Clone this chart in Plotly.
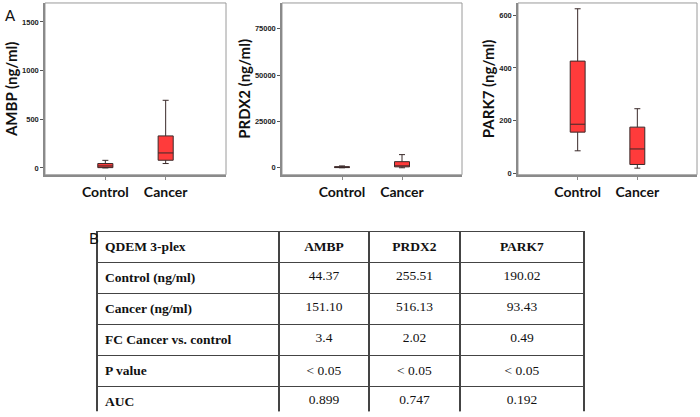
import plotly.graph_objects as go

categories = ["Control", "Cancer"]

# Box statistics: [Control, Cancer]
ambp_low = [0, 45]
ambp_q1 = [3, 79]
ambp_med = [20, 154]
ambp_q3 = [45, 329]
ambp_up = [78, 695]

prdx2_low = [0, 0]
prdx2_q1 = [100, 500]
prdx2_med = [300, 900]
prdx2_q3 = [600, 3300]
prdx2_up = [1000, 7100]

park7_low = [85, 19]
park7_q1 = [156, 33]
park7_med = [186, 92]
park7_q3 = [426, 175]
park7_up = [625, 245]

panel_titles = ["AMBP (ng/ml)", "PRDX2 (ng/ml)", "PARK7 (ng/ml)"]
y_ranges = [[-70, 1695], [-3750, 88900], [-6, 647]]
y_ticks = [[0, 500, 1000, 1500], [0, 25000, 50000, 75000], [0, 200, 400, 600]]

table_header = ["QDEM 3-plex", "AMBP", "PRDX2", "PARK7"]
row_labels = ["Control (ng/ml)", "Cancer (ng/ml)", "FC Cancer vs. control", "P value", "AUC"]
col_ambp = ["44.37", "151.10", "3.4", "< 0.05", "0.899"]
col_prdx2 = ["255.51", "516.13", "2.02", "< 0.05", "0.747"]
col_park7 = ["190.02", "93.43", "0.49", "< 0.05", "0.192"]

W, H = 700, 417
fig = go.Figure()

stats = [
    (ambp_low, ambp_q1, ambp_med, ambp_q3, ambp_up),
    (prdx2_low, prdx2_q1, prdx2_med, prdx2_q3, prdx2_up),
    (park7_low, park7_q1, park7_med, park7_q3, park7_up),
]
# pixel frames of the three plot areas (left, right)
frames = [(45, 226), (282, 462), (518, 697)]
top_px, bot_px = 3, 176

sans = "Lato"
axis_grey = "#8a8a8a"
for i, (lo, q1, md, q3, up) in enumerate(stats):
    n = "" if i == 0 else str(i + 1)
    fig.add_trace(go.Box(
        x=categories, lowerfence=lo, q1=q1, median=md, q3=q3, upperfence=up,
        xaxis="x" + n, yaxis="y" + n,
        fillcolor="#ff3b3b", line=dict(color="#3a2a2a", width=1),
        width=0.25, whiskerwidth=0.4, boxpoints=False, showlegend=False,
        hoverinfo="skip",
    ))
    l, r = frames[i]
    xd = [l / W, r / W]
    yd = [(H - bot_px) / H, (H - top_px) / H]
    fig.layout["xaxis" + n] = dict(
        domain=xd, anchor="y" + n, range=[-1, 2], type="category",
        showline=True, linecolor=axis_grey, linewidth=1.5, mirror=False,
        ticks="outside", ticklen=4, tickcolor=axis_grey,
        tickfont=dict(family=sans, size=14, color="#111", weight="bold"),
        showgrid=False, zeroline=False, fixedrange=True,
    )
    fig.layout["yaxis" + n] = dict(
        domain=yd, anchor="x" + n, range=y_ranges[i],
        tickvals=y_ticks[i], ticktext=[str(v) for v in y_ticks[i]],
        showline=True, linecolor=axis_grey, linewidth=1.5,
        ticks="outside", ticklen=3, tickcolor="#555",
        tickfont=dict(family="Liberation Sans", size=7.5, color="#222", weight="bold"),
        showgrid=False, zeroline=False,
        title=dict(text=panel_titles[i], font=dict(family=sans, size=15, color="#111", weight="bold"), standoff=1),
    )
    fig.add_shape(type="rect", xref="x" + n + " domain", yref="y" + n + " domain",
                  x0=0, x1=1, y0=0, y1=1, line=dict(color="#9a9a9a", width=1), layer="below")

# Table
serif = "Liberation Serif, Times New Roman, serif"
bold_labels = ["<b>" + t + "</b>" for t in row_labels]
fig.add_trace(go.Table(
    domain=dict(x=[97 / W, 584 / W], y=[(H - 415) / H, (H - 233) / H]),
    columnwidth=[182, 90, 91, 124],
    header=dict(values=["<b>" + t + "</b>" for t in table_header],
                align=["left", "center", "center", "center"],
                font=dict(family=serif, size=13.5, color="#111"),
                fill_color="white", line=dict(color="#444", width=1.3), height=24),
    cells=dict(values=[bold_labels, col_ambp, col_prdx2, col_park7],
               align=["left", "center", "center", "center"],
               font=dict(family=serif, size=13.5, color="#111"),
               fill_color="white", line=dict(color="#444", width=1.3), height=30),
))

fig.add_annotation(text="A", x=3 / W, y=(H - 15) / H, xref="paper", yref="paper",
                   xanchor="left", yanchor="middle", showarrow=False,
                   font=dict(family=sans, size=15, color="#111"))
fig.add_annotation(text="B", x=87 / W, y=(H - 240) / H, xref="paper", yref="paper",
                   xanchor="left", yanchor="middle", showarrow=False,
                   font=dict(family=sans, size=15, color="#111"))

fig.update_layout(width=W, height=H, margin=dict(l=0, r=0, t=0, b=0),
                  paper_bgcolor="white", plot_bgcolor="white")
fig.write_html("out.html", config={"displayModeBar": False},
               post_script="document.body.style.margin='0';")
